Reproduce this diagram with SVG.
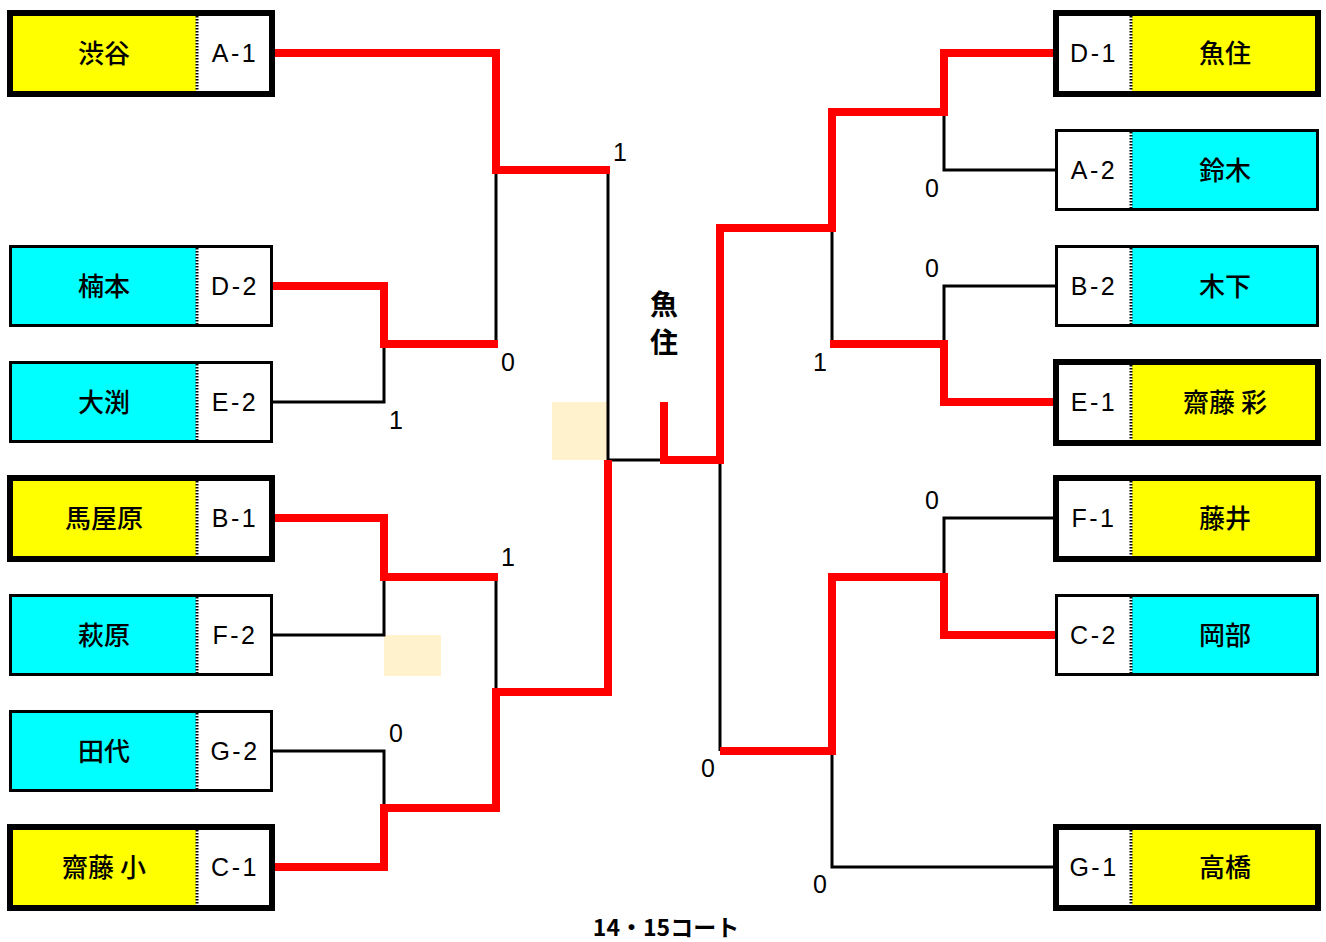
<svg xmlns="http://www.w3.org/2000/svg" width="1326" height="942" viewBox="0 0 1326 942">
<style>
.bg{fill:#fff}
.thick{fill:#fff;stroke:#000;stroke-width:6}
.thin{fill:#fff;stroke:#000;stroke-width:3}
.y{fill:#ffff00}
.c{fill:#00ffff}
.sep{stroke:#000;stroke-width:3;stroke-dasharray:1.5 1.5}
.name{font-family:"Noto Sans CJK JP","Noto Sans CJK SC",sans-serif;font-size:26px;font-weight:500;text-anchor:middle;fill:#000}
.code{font-family:"Liberation Sans",Arial,sans-serif;font-size:25px;letter-spacing:2.5px;text-anchor:middle;fill:#000}
.score{font-family:"Liberation Sans",Arial,sans-serif;font-size:25px;text-anchor:middle;fill:#000}
.blk{fill:none;stroke:#000;stroke-width:3}
.red{fill:none;stroke:#ff0000;stroke-width:8;stroke-linejoin:miter;stroke-linecap:square}
.title{font-family:"Noto Sans CJK JP",sans-serif;font-weight:bold;text-anchor:middle;fill:#000}
.beige{fill:#fff2cc}
</style>
<rect class="bg" x="0" y="0" width="1326" height="942"/>
<rect class="beige" x="552" y="402" width="56" height="58"/>
<rect class="beige" x="384" y="635" width="57" height="41"/>
<g id="connectors">
<g class="blk">
<path d="M272,402 H384 V344"/>
<path d="M496,170 V344"/>
<path d="M608,170 V460 H662"/>
<path d="M272,635 H384 V577"/>
<path d="M496,577 V692"/>
<path d="M272,751 H384 V808"/>
<path d="M1056,170 H944 V112"/>
<path d="M832,228 V344"/>
<path d="M1056,286 H944 V344"/>
<path d="M1056,518 H944 V577"/>
<path d="M720,460 V751"/>
<path d="M1056,867 H832 V751"/>
</g>
<g class="red">
<path d="M276,53 H496 V170 H606"/>
<path d="M276,286 H384 V344 H494"/>
<path d="M276,518 H384 V577 H494"/>
<path d="M276,867 H384 V808 H496 V692 H608 V464"/>
<path d="M664,406 V460 H720 V228 H832 V112 H944 V53 H1052"/>
<path d="M834,344 H944 V402 H1052"/>
<path d="M1052,635 H944 V577 H832 V751 H724"/>
</g>
</g>
<g id="node-shibuya"><rect class="thick" x="10" y="13" width="262" height="81"/><rect class="y" x="13" y="16" width="183" height="75"/><line class="sep" x1="197" y1="16" x2="197" y2="91"/><text class="name" x="104" y="63">渋谷</text><text class="code" x="235" y="62">A-1</text></g>
<g id="node-kusumoto"><rect class="thin" x="10.5" y="246.5" width="261" height="79"/><rect class="c" x="12" y="248" width="184" height="76"/><line class="sep" x1="197" y1="248" x2="197" y2="324"/><text class="name" x="104" y="296">楠本</text><text class="code" x="235" y="295">D-2</text></g>
<g id="node-obuchi"><rect class="thin" x="10.5" y="362.5" width="261" height="79"/><rect class="c" x="12" y="364" width="184" height="76"/><line class="sep" x1="197" y1="364" x2="197" y2="440"/><text class="name" x="104" y="412">大渕</text><text class="code" x="235" y="411">E-2</text></g>
<g id="node-umayahara"><rect class="thick" x="10" y="478" width="262" height="81"/><rect class="y" x="13" y="481" width="183" height="75"/><line class="sep" x1="197" y1="481" x2="197" y2="556"/><text class="name" x="104" y="528">馬屋原</text><text class="code" x="235" y="527">B-1</text></g>
<g id="node-hagiwara"><rect class="thin" x="10.5" y="595.5" width="261" height="79"/><rect class="c" x="12" y="597" width="184" height="76"/><line class="sep" x1="197" y1="597" x2="197" y2="673"/><text class="name" x="104" y="645">萩原</text><text class="code" x="235" y="644">F-2</text></g>
<g id="node-tashiro"><rect class="thin" x="10.5" y="711.5" width="261" height="79"/><rect class="c" x="12" y="713" width="184" height="76"/><line class="sep" x1="197" y1="713" x2="197" y2="789"/><text class="name" x="104" y="761">田代</text><text class="code" x="235" y="760">G-2</text></g>
<g id="node-saito-sho"><rect class="thick" x="10" y="827" width="262" height="81"/><rect class="y" x="13" y="830" width="183" height="75"/><line class="sep" x1="197" y1="830" x2="197" y2="905"/><text class="name" x="104" y="877">齋藤 小</text><text class="code" x="235" y="876">C-1</text></g>
<g id="node-uozumi"><rect class="thick" x="1056" y="13" width="262" height="81"/><rect class="y" x="1132" y="16" width="183" height="75"/><line class="sep" x1="1131" y1="16" x2="1131" y2="91"/><text class="name" x="1225" y="63">魚住</text><text class="code" x="1094" y="62">D-1</text></g>
<g id="node-suzuki"><rect class="thin" x="1056.5" y="130.5" width="261" height="79"/><rect class="c" x="1132" y="132" width="184" height="76"/><line class="sep" x1="1131" y1="132" x2="1131" y2="208"/><text class="name" x="1225" y="180">鈴木</text><text class="code" x="1094" y="179">A-2</text></g>
<g id="node-kinoshita"><rect class="thin" x="1056.5" y="246.5" width="261" height="79"/><rect class="c" x="1132" y="248" width="184" height="76"/><line class="sep" x1="1131" y1="248" x2="1131" y2="324"/><text class="name" x="1225" y="296">木下</text><text class="code" x="1094" y="295">B-2</text></g>
<g id="node-saito-aya"><rect class="thick" x="1056" y="362" width="262" height="81"/><rect class="y" x="1132" y="365" width="183" height="75"/><line class="sep" x1="1131" y1="365" x2="1131" y2="440"/><text class="name" x="1225" y="412">齋藤 彩</text><text class="code" x="1094" y="411">E-1</text></g>
<g id="node-fujii"><rect class="thick" x="1056" y="478" width="262" height="81"/><rect class="y" x="1132" y="481" width="183" height="75"/><line class="sep" x1="1131" y1="481" x2="1131" y2="556"/><text class="name" x="1225" y="528">藤井</text><text class="code" x="1094" y="527">F-1</text></g>
<g id="node-okabe"><rect class="thin" x="1056.5" y="595.5" width="261" height="79"/><rect class="c" x="1132" y="597" width="184" height="76"/><line class="sep" x1="1131" y1="597" x2="1131" y2="673"/><text class="name" x="1225" y="645">岡部</text><text class="code" x="1094" y="644">C-2</text></g>
<g id="node-takahashi"><rect class="thick" x="1056" y="827" width="262" height="81"/><rect class="y" x="1132" y="830" width="183" height="75"/><line class="sep" x1="1131" y1="830" x2="1131" y2="905"/><text class="name" x="1225" y="877">高橋</text><text class="code" x="1094" y="876">G-1</text></g>
<g id="scores">
<text class="score" x="620" y="161">1</text>
<text class="score" x="508" y="371">0</text>
<text class="score" x="396" y="429">1</text>
<text class="score" x="508" y="566">1</text>
<text class="score" x="396" y="742">0</text>
<text class="score" x="932" y="197">0</text>
<text class="score" x="932" y="277">0</text>
<text class="score" x="820" y="371">1</text>
<text class="score" x="932" y="509">0</text>
<text class="score" x="708" y="777">0</text>
<text class="score" x="820" y="893">0</text>
</g>
<g id="champion">
<text class="title" x="664" y="315" font-size="28">魚</text>
<text class="title" x="664" y="353" font-size="28">住</text>
</g>
<text class="title" x="666" y="936" font-size="23">14・15コート</text>
</svg>
